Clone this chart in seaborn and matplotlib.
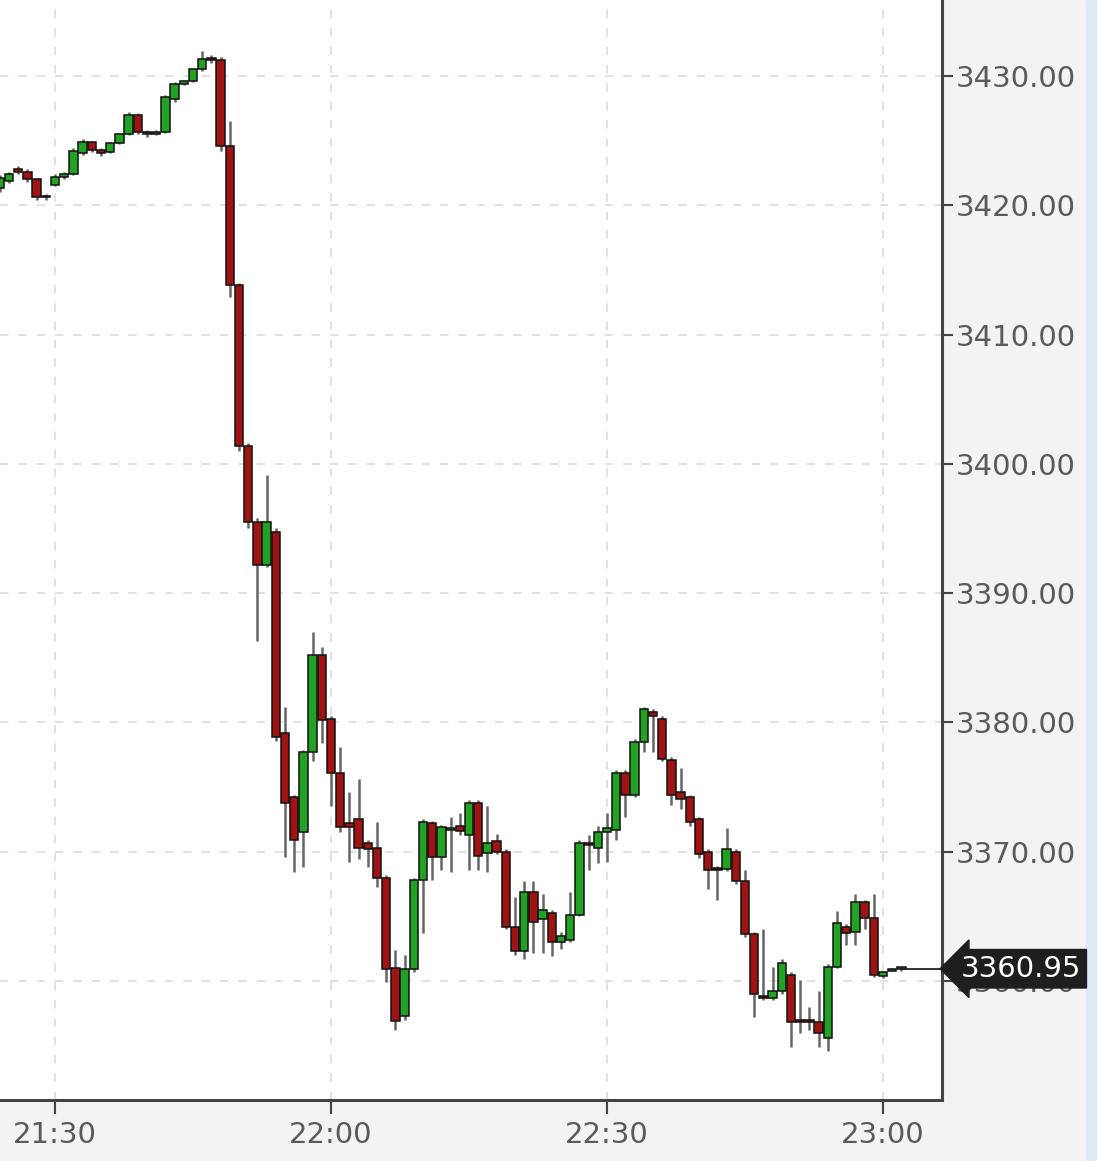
import numpy as np
import pandas as pd
import matplotlib
matplotlib.use("Agg")
import matplotlib.pyplot as plt
import matplotlib.transforms as mtransforms
from matplotlib.patches import Rectangle
import seaborn as sns

# ---------------- data ----------------
times = [
    "21:24", "21:25", "21:26", "21:27", "21:28", "21:29", "21:30", "21:31", "21:32", "21:33",
    "21:34", "21:35", "21:36", "21:37", "21:38", "21:39", "21:40", "21:41", "21:42", "21:43",
    "21:44", "21:45", "21:46", "21:47", "21:48", "21:49", "21:50", "21:51", "21:52", "21:53",
    "21:54", "21:55", "21:56", "21:57", "21:58", "21:59", "22:00", "22:01", "22:02", "22:03",
    "22:04", "22:05", "22:06", "22:07", "22:08", "22:09", "22:10", "22:11", "22:12", "22:13",
    "22:14", "22:15", "22:16", "22:17", "22:18", "22:19", "22:20", "22:21", "22:22", "22:23",
    "22:24", "22:25", "22:26", "22:27", "22:28", "22:29", "22:30", "22:31", "22:32", "22:33",
    "22:34", "22:35", "22:36", "22:37", "22:38", "22:39", "22:40", "22:41", "22:42", "22:43",
    "22:44", "22:45", "22:46", "22:47", "22:48", "22:49", "22:50", "22:51", "22:52", "22:53",
    "22:54", "22:55", "22:56", "22:57", "22:58", "22:59", "23:00", "23:01", "23:02",
]
opens = [
    3421.3, 3421.9, 3422.8, 3422.6, 3422.0, 3420.6, 3421.6, 3422.2, 3422.4, 3424.0,
    3424.9, 3424.3, 3424.1, 3424.8, 3425.5, 3427.0, 3425.7, 3425.5, 3425.7, 3428.2,
    3429.4, 3429.6, 3430.5, 3431.3, 3431.2, 3424.6, 3413.8, 3401.4, 3395.5, 3392.2,
    3394.7, 3379.2, 3374.2, 3371.5, 3377.7, 3385.2, 3380.3, 3376.1, 3372.2, 3372.5,
    3370.7, 3370.3, 3368.0, 3361.0, 3357.3, 3360.9, 3367.8, 3372.2, 3369.6, 3371.7,
    3372.0, 3371.3, 3373.8, 3369.9, 3370.8, 3370.0, 3364.2, 3362.3, 3366.9, 3364.8,
    3365.3, 3363.0, 3363.2, 3365.1, 3370.7, 3370.3, 3371.5, 3371.7, 3376.1, 3374.4,
    3378.5, 3380.8, 3380.3, 3377.1, 3374.6, 3374.2, 3372.5, 3370.0, 3368.7, 3368.7,
    3370.0, 3367.7, 3363.6, 3358.8, 3358.7, 3359.2, 3360.5, 3357.0, 3356.9, 3356.8,
    3355.6, 3361.1, 3364.2, 3363.8, 3366.1, 3364.9, 3360.4, 3360.8, 3360.9,
]
highs = [
    3422.3, 3422.6, 3423.0, 3422.8, 3422.1, 3420.9, 3422.4, 3422.6, 3424.4, 3425.1,
    3425.0, 3424.4, 3424.9, 3425.6, 3427.2, 3427.1, 3425.8, 3425.8, 3428.5, 3429.5,
    3429.7, 3430.6, 3431.9, 3431.6, 3431.5, 3426.5, 3414.0, 3401.6, 3395.8, 3399.1,
    3395.0, 3381.2, 3374.4, 3377.9, 3387.0, 3385.8, 3380.5, 3378.1, 3374.6, 3375.6,
    3370.9, 3372.3, 3368.2, 3362.4, 3362.0, 3368.0, 3372.5, 3372.4, 3372.1, 3372.7,
    3373.0, 3374.0, 3374.0, 3373.5, 3371.4, 3370.2, 3366.5, 3367.7, 3367.7, 3366.7,
    3365.5, 3363.8, 3366.9, 3370.9, 3371.3, 3372.0, 3373.0, 3376.3, 3376.3, 3378.7,
    3381.2, 3381.0, 3380.5, 3377.3, 3376.5, 3374.4, 3372.7, 3370.2, 3368.9, 3371.8,
    3370.2, 3368.6, 3363.8, 3364.0, 3361.1, 3361.7, 3360.7, 3360.1, 3358.0, 3359.2,
    3361.3, 3365.4, 3364.4, 3366.7, 3366.3, 3366.7, 3360.8, 3361.0, 3361.0,
]
lows = [
    3421.0, 3421.7, 3422.4, 3421.8, 3420.4, 3420.4, 3421.5, 3422.0, 3422.3, 3423.9,
    3424.1, 3423.8, 3424.0, 3424.7, 3425.4, 3425.5, 3425.3, 3425.4, 3425.6, 3428.0,
    3429.3, 3429.5, 3430.4, 3431.0, 3424.2, 3412.9, 3401.0, 3395.0, 3386.3, 3392.0,
    3378.6, 3369.6, 3368.4, 3368.8, 3377.0, 3378.4, 3373.5, 3371.5, 3369.2, 3369.4,
    3368.8, 3367.3, 3359.9, 3356.2, 3357.0, 3360.7, 3363.7, 3367.8, 3368.6, 3368.4,
    3371.3, 3368.6, 3368.6, 3368.4, 3369.8, 3364.0, 3362.0, 3361.7, 3362.2, 3362.2,
    3361.9, 3362.5, 3363.0, 3365.0, 3368.6, 3369.1, 3369.2, 3370.9, 3372.7, 3374.2,
    3377.7, 3377.7, 3377.0, 3373.6, 3373.3, 3372.0, 3369.5, 3367.1, 3366.3, 3368.5,
    3367.5, 3363.4, 3357.2, 3358.5, 3358.5, 3359.0, 3354.9, 3356.0, 3356.2, 3354.9,
    3354.6, 3361.0, 3362.8, 3362.8, 3364.0, 3360.3, 3360.2, 3360.8, 3360.8,
]
closes = [
    3422.1, 3422.4, 3422.6, 3422.0, 3420.6, 3420.7, 3422.2, 3422.4, 3424.2, 3424.9,
    3424.3, 3424.0, 3424.8, 3425.5, 3427.0, 3425.7, 3425.5, 3425.7, 3428.4, 3429.4,
    3429.6, 3430.5, 3431.3, 3431.2, 3424.6, 3413.8, 3401.4, 3395.5, 3392.2, 3395.5,
    3378.9, 3373.8, 3370.9, 3377.7, 3385.2, 3380.2, 3376.1, 3371.9, 3371.9, 3370.3,
    3370.2, 3368.0, 3360.9, 3356.9, 3360.9, 3367.8, 3372.3, 3369.6, 3371.9, 3371.8,
    3371.6, 3373.8, 3369.7, 3370.7, 3370.0, 3364.2, 3362.3, 3366.9, 3364.6, 3365.5,
    3363.0, 3363.5, 3365.1, 3370.7, 3370.5, 3371.5, 3371.8, 3376.1, 3374.4, 3378.5,
    3381.0, 3380.5, 3377.2, 3374.4, 3374.1, 3372.3, 3369.8, 3368.6, 3368.6, 3370.2,
    3367.7, 3363.6, 3359.0, 3358.7, 3359.2, 3361.4, 3356.8, 3356.8, 3356.8, 3356.0,
    3361.1, 3364.5, 3363.7, 3366.1, 3364.9, 3360.5, 3360.7, 3360.9, 3360.95,
]
last_price = 3360.95
price_ticks = [3360, 3370, 3380, 3390, 3400, 3410, 3420, 3430]
time_tick_labels = ["21:30", "22:00", "22:30", "23:00"]

# ---------------- style ----------------
sns.set_theme(style="white")
plt.rcParams['font.family'] = ['DejaVu Sans']


def to_minutes(s):
    h, m = s.split(":")
    return (int(h) - 21) * 60 + int(m)


df = pd.DataFrame(dict(time=times, open=opens, high=highs, low=lows, close=closes))
df["t"] = df["time"].map(to_minutes)
df["up"] = df["close"] >= df["open"]

W, H = 1097, 1161
fig = plt.figure(figsize=(W / 100, H / 100), dpi=100)
fig.patch.set_facecolor("#f2f3f3")
ax = fig.add_axes([0, 61 / H, 942 / W, 1100 / H])
ax.set_facecolor("white")

GREEN = "#22a222"
RED = "#a01313"
colors = np.where(df["up"], GREEN, RED)

# wicks
ax.vlines(df["t"], df["low"], df["high"], color="#666666", lw=1.8, zorder=2)
# bodies
body_bottom = np.minimum(df["open"], df["close"])
body_h = np.maximum(np.abs(df["close"] - df["open"]), 0.15)
ax.bar(df["t"], body_h, bottom=body_bottom, width=0.9, color=colors,
       edgecolor="#111111", linewidth=1.1, zorder=3)

xmin, xmax = 24.02, 126.41
ax.set_xlim(xmin, xmax)
ax.set_ylim(3350.8, 3435.87)

# last price line
sns.lineplot(x=[df["t"].iloc[-1], xmax], y=[last_price, last_price], ax=ax,
             color="#222222", lw=1.3, zorder=4)

# ticks
ax.yaxis.tick_right()
ax.set_yticks(price_ticks)
ax.set_yticklabels([f"{v:.2f}" for v in price_ticks])
ax.set_xticks([to_minutes(s) for s in time_tick_labels])
ax.set_xticklabels(time_tick_labels)
ax.tick_params(axis="y", right=True, left=False, labelright=True, labelleft=False,
               direction="out", length=8, width=1.5, color="#444444",
               labelsize=21, labelcolor="#5a5a5a", pad=2)
ax.tick_params(axis="x", bottom=True, direction="out", length=10, width=1.5,
               color="#444444", labelsize=21, labelcolor="#5a5a5a", pad=5)

for s in ["top", "left"]:
    ax.spines[s].set_visible(False)
for s in ["right", "bottom"]:
    ax.spines[s].set_color("#444444")
    ax.spines[s].set_linewidth(2.2)

ax.grid(True, color="#dcdcdc", ls=(0, (5, 6)), lw=1.2)
ax.set_axisbelow(True)

# current price marker (covers most of the 3360.00 tick label, as in the reference)
trans = mtransforms.blended_transform_factory(ax.transAxes, ax.transData)
ax.text(1.02, last_price, f"{last_price:.2f}", transform=trans, ha="left", va="center",
        fontsize=21, color="white", zorder=10, clip_on=False,
        bbox=dict(boxstyle="larrow,pad=0.18", fc="#1e1e1e", ec="#1e1e1e"))

# light blue edge strip on the far right
fig.add_artist(Rectangle((1086 / W, 0), 11 / W, 1, transform=fig.transFigure,
                         color="#dfe8f5", zorder=0))

fig.savefig("out.png", dpi=100)
